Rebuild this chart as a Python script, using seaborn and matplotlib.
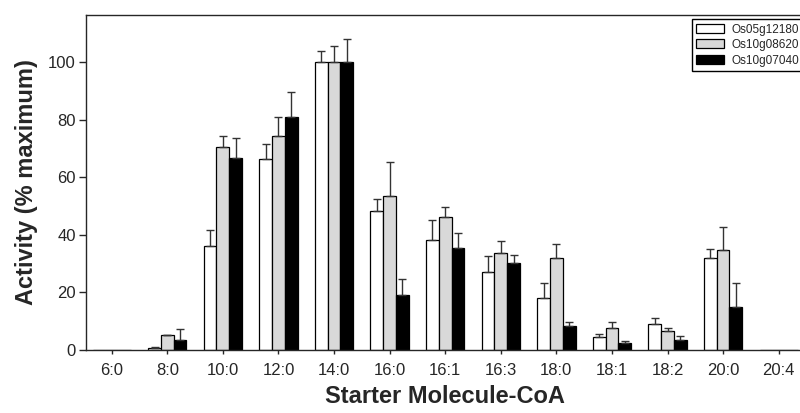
import numpy as np
import pandas as pd
import seaborn as sns
import matplotlib
matplotlib.use("Agg")
import matplotlib.pyplot as plt

# values (% of maximum activity)
substrates = ["6:0", "8:0", "10:0", "12:0", "14:0", "16:0", "16:1",
              "16:3", "18:0", "18:1", "18:2", "20:0", "20:4"]
genes = ["Os05g12180", "Os10g08620", "Os10g07040"]

os05 = [0, 0.6, 36.2, 66.4, 100.2, 48.2, 38.3, 27.0, 17.9, 4.6, 9.1, 31.9, 0]
os05_err = [0, 0.5, 5.4, 5.3, 3.6, 4.1, 6.7, 5.8, 5.2, 1.0, 2.0, 3.1, 0]
os10a = [0, 5.0, 70.5, 74.4, 100.0, 53.5, 46.2, 33.6, 31.9, 7.6, 6.4, 34.6, 0]
os10a_err = [0, 0.2, 3.9, 6.5, 5.7, 11.7, 3.6, 4.4, 5.0, 2.2, 1.2, 8.0, 0]
os10b = [0, 3.3, 66.8, 80.9, 100.0, 19.1, 35.4, 30.2, 8.4, 2.3, 3.4, 14.9, 0]
os10b_err = [0, 3.9, 6.9, 8.7, 8.2, 5.5, 5.4, 2.9, 1.1, 0.7, 1.5, 8.2, 0]

vals = [os05, os10a, os10b]
errs = [os05_err, os10a_err, os10b_err]

df = pd.DataFrame({
    "substrate": substrates * 3,
    "gene": np.repeat(genes, len(substrates)),
    "activity": os05 + os10a + os10b,
})

sns.set_style("ticks")
plt.rcParams["font.family"] = ["Liberation Sans", "DejaVu Sans"]

fig = plt.figure(figsize=(8, 4.13), dpi=100)
ax = fig.add_axes([0.107, 0.153, 0.899, 0.811])

sns.barplot(data=df, x="substrate", y="activity", hue="gene",
            order=substrates, hue_order=genes,
            palette=["white", "#d9d9d9", "black"],
            edgecolor="black", linewidth=0.9, width=0.69, gap=0,
            errorbar=None, ax=ax)

# one-sided error bars on top of each bar
for cont, e in zip(ax.containers, errs):
    for bar, err in zip(cont, e):
        if err <= 0:
            continue
        xc = bar.get_x() + bar.get_width() / 2
        top = bar.get_height()
        ax.errorbar(xc, top, yerr=[[0], [err]], fmt="none",
                    ecolor="#333333", elinewidth=1, capsize=3, capthick=1)

ax.set_xlim(-0.47, 12.47)
ax.set_ylim(0, 116.5)
ax.set_yticks([0, 20, 40, 60, 80, 100])
ax.tick_params(axis="x", labelsize=12, direction="out", length=3, width=1, pad=6.5)
ax.tick_params(axis="y", labelsize=12, direction="out", length=5, width=1, pad=2)
for s in ax.spines.values():
    s.set_linewidth(1)

ax.set_xlabel("Starter Molecule-CoA", fontsize=17, fontweight="bold", labelpad=5)
ax.set_ylabel("Activity (% maximum)", fontsize=17, fontweight="bold", labelpad=7)

leg = ax.legend(loc="upper left", bbox_to_anchor=(0.865, 0.953),
                bbox_transform=fig.transFigure, fontsize=8.5, frameon=True,
                fancybox=False, edgecolor="black", framealpha=1,
                borderpad=0.35, labelspacing=0.3, handlelength=2.4,
                handleheight=0.8, handletextpad=0.6, borderaxespad=0)
leg.get_frame().set_linewidth(1)

fig.savefig("out.png", dpi=100)
